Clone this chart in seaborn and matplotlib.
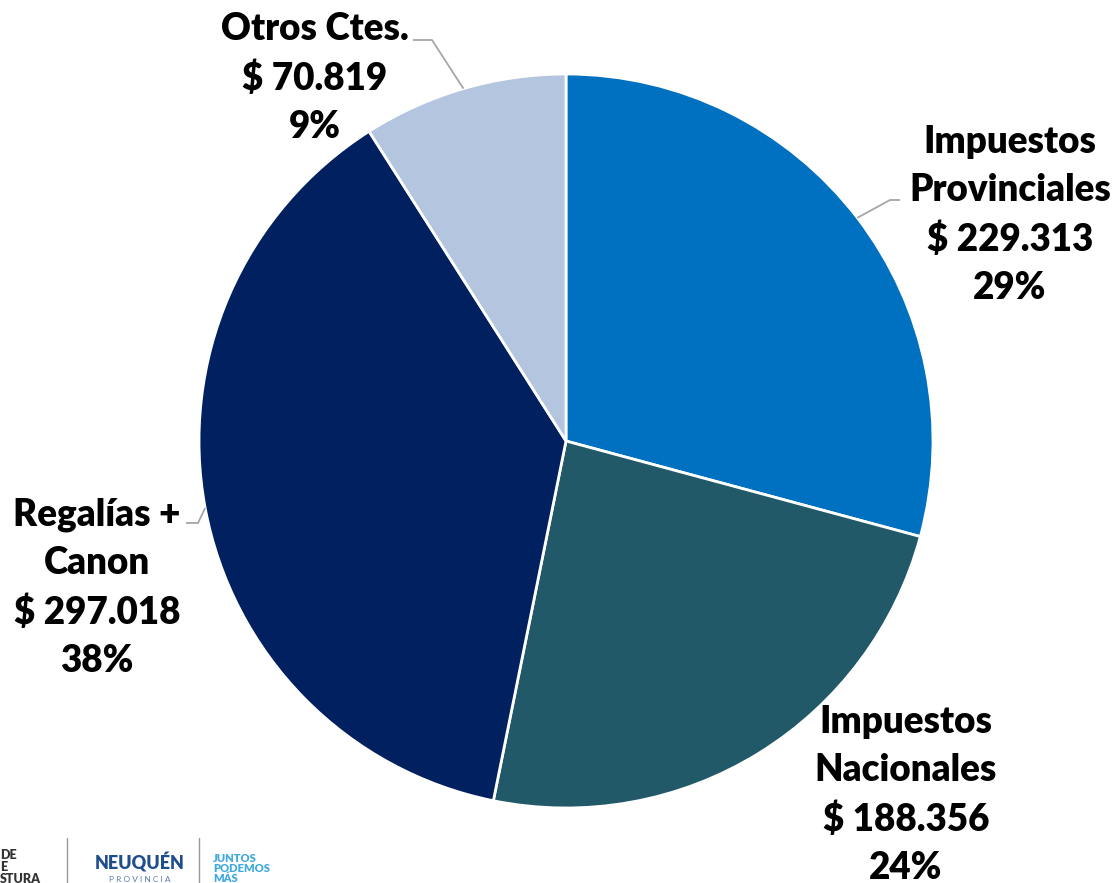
import numpy as np
import matplotlib.pyplot as plt
import seaborn as sns

categories = ["Impuestos\nProvinciales", "Impuestos\nNacionales", "Regalías +\nCanon", "Otros Ctes."]
values = [229313, 188356, 297018, 70819]
value_labels = ["$ 229.313", "$ 188.356", "$ 297.018", "$ 70.819"]
colors = ["#0070C0", "#215968", "#002060", "#B4C5DF"]

sns.set_theme(style="white")
plt.rcParams['font.family'] = ['Lato', 'DejaVu Sans']

W, H = 1114, 883
cx, cy, r = 566, 441, 367


def px(x, y):
    # pixel -> data units (pie radius = 1)
    return (x - cx) / r, (cy - y) / r


fig = plt.figure(figsize=(W / 100, H / 100), dpi=100)
ax = fig.add_axes([0, 0, 1, 1])
wedges, _ = ax.pie(values, colors=colors, startangle=90, counterclock=False,
                   wedgeprops=dict(edgecolor="white", linewidth=2))
ax.set_xlim(-cx / r, (W - cx) / r)
ax.set_ylim(-(H - cy) / r, cy / r)
ax.set_aspect("equal")
ax.axis("off")

total = sum(values)
pcts = [round(v / total * 100) for v in values]

# label centres (pixels)
label_pos = [(1010, 215), (906, 795), (97, 588), (315, 78)]
# leader line elbow / end (pixels); None = no leader
leaders = [[(890, 200), (900, 200)], None, [(198, 523), (186, 523)], [(432, 40), (413, 40)]]

for i, w in enumerate(wedges):
    x, y = px(*label_pos[i])
    txt = categories[i] + "\n" + value_labels[i] + "\n" + f"{pcts[i]}%"
    ax.text(x, y, txt, ha="center", va="center", fontsize=26.5, fontweight="heavy",
            color="black", linespacing=1.5)
    if leaders[i] is not None:
        mid = np.deg2rad((w.theta1 + w.theta2) / 2)
        pts = [(np.cos(mid), np.sin(mid))] + [px(*p) for p in leaders[i]]
        xs, ys = zip(*pts)
        ax.plot(xs, ys, color="#A6A6A6", lw=1.3, solid_capstyle="butt")

# footer logos (text)
for yy, s in [(855, "DE"), (867, "E"), (879, "STURA")]:
    fig.text(0 / W, 1 - yy / H, s, fontsize=9, fontweight="heavy", color="#333333", va="center")
fig.add_artist(plt.Line2D([67 / W, 67 / W], [0, 1 - 838 / H], color="#9A9A9A", lw=1))
fig.add_artist(plt.Line2D([199 / W, 199 / W], [0, 1 - 838 / H], color="#9A9A9A", lw=1))
fig.text(140 / W, 1 - 863 / H, "NEUQUÉN", fontsize=13, fontweight="heavy", color="#1F4E8C",
         ha="center", va="center")
fig.text(140 / W, 1 - 879 / H, "P R O V I N C I A", fontsize=6, color="#5A7FAF",
         ha="center", va="center")
fig.text(213 / W, 1 - 853 / H, "JUNTOS\nPODEMOS\nMÁS", fontsize=8, fontweight="heavy",
         color="#3FA9E0", ha="left", va="top", linespacing=0.9)

fig.savefig("out.png", dpi=100, facecolor="white")
